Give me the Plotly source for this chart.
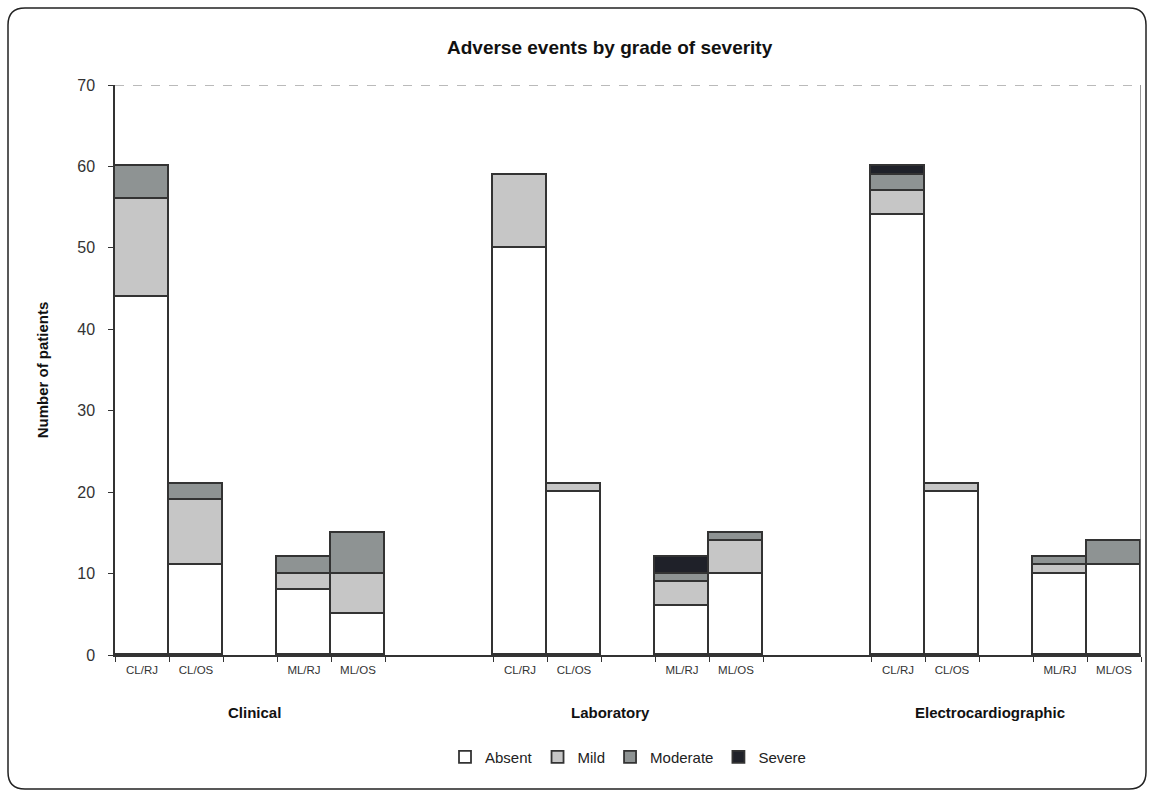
import plotly.graph_objects as go

groups = ["Clinical", "Laboratory", "Electrocardiographic"]
subgroups = ["CL/RJ", "CL/OS", "ML/RJ", "ML/OS"]
grades = ["Absent", "Mild", "Moderate", "Severe"]

absent = [44, 11, 8, 5, 50, 20, 6, 10, 54, 20, 10, 11]
mild = [12, 8, 2, 5, 9, 1, 3, 4, 3, 1, 1, 0]
moderate = [4, 2, 2, 5, 0, 0, 1, 1, 2, 0, 1, 3]
severe = [0, 0, 0, 0, 0, 0, 2, 0, 1, 0, 0, 0]

colors = ["#ffffff", "#c6c6c6", "#8e9393", "#1f2129"]
FONT = "Liberation Sans, Arial, sans-serif"

# slot layout: each group has 4 bars in slots (0,1,3,4), groups 7 slots apart
slot_offsets = [0, 1, 3, 4]
xs = []
labels = []
for gi in range(len(groups)):
    for si, sg in enumerate(subgroups):
        xs.append(gi * 7 + slot_offsets[si] + 0.5)
        labels.append(sg)

fig = go.Figure()
for name, vals, col in zip(grades, [absent, mild, moderate, severe], colors):
    fig.add_trace(go.Bar(
        x=xs, y=[v if v else None for v in vals], name=name, width=1,
        marker=dict(color=col, line=dict(color="#333333", width=1.8)),
    ))

n_slots = 19
tick_bounds = []
for gi in range(len(groups)):
    tick_bounds += [gi * 7 + k for k in range(6)]

fig.update_layout(
    width=1150, height=795,
    margin=dict(l=115, r=9, t=85, b=140),
    barmode="stack", bargap=0,
    paper_bgcolor="white", plot_bgcolor="white",
    font=dict(family=FONT, color="#222"),
    showlegend=True,
    legend=dict(orientation="h", x=0.5, xanchor="center", y=-0.179, yanchor="middle",
                font=dict(size=15, color="#222"), traceorder="normal",
                itemwidth=30),
    xaxis=dict(range=[0, n_slots], tickvals=tick_bounds, showticklabels=False,
               ticks="outside", ticklen=5, tickcolor="#333", showgrid=False,
               showline=True, linecolor="#333", linewidth=1.5, zeroline=False, fixedrange=True),
    xaxis2=dict(range=[0, n_slots], overlaying="x", anchor="y", side="bottom",
                tickvals=xs, ticktext=labels, ticks="", showgrid=False, showline=False,
                zeroline=False, tickfont=dict(size=11.5, color="#333"), ticklabelstandoff=6),
    yaxis=dict(range=[0, 70], dtick=10, ticks="outside", ticklen=5, tickcolor="#333",
               showgrid=False, showline=True, linecolor="#333", linewidth=1.5, zeroline=False,
               tickfont=dict(size=16, color="#333"), ticklabelstandoff=10,
               title=dict(text="<b>Number of patients</b>", font=dict(size=15, color="#111"),
                          standoff=25)),
)
# invisible trace to activate xaxis2
fig.add_trace(go.Scatter(x=[0], y=[0], xaxis="x2", mode="markers",
                         marker=dict(opacity=0), showlegend=False, hoverinfo="skip"))

# frame lines: top dashed, right solid
fig.add_shape(type="line", xref="x", yref="y", x0=0, x1=n_slots, y0=70, y1=70,
              line=dict(color="#777", width=1.2, dash="dash"))
fig.add_shape(type="line", xref="x", yref="y", x0=n_slots, x1=n_slots, y0=0, y1=70,
              line=dict(color="#777", width=1.5))

# title
fig.add_annotation(text="<b>Adverse events by grade of severity</b>", xref="paper", yref="paper",
                   x=(610 - 115) / 1026, y=(655 - 47) / 570, showarrow=False,
                   font=dict(size=19, color="#111"), xanchor="center", yanchor="middle")

# group labels
group_px = [254, 610, 990]
for g, px in zip(groups, group_px):
    fig.add_annotation(text=f"<b>{g}</b>", xref="paper", yref="paper",
                       x=(px - 115) / 1026, y=(655 - 712) / 570, showarrow=False,
                       font=dict(size=15, color="#111"), xanchor="center", yanchor="middle")

# rounded outer border
x0, x1 = (8 - 115) / 1026, (1146 - 115) / 1026
y0, y1 = (655 - 789) / 570, (655 - 8) / 570
rx, ry = 17 / 1026, 17 / 570
path = (f"M {x0+rx},{y1} L {x1-rx},{y1} Q {x1},{y1} {x1},{y1-ry} L {x1},{y0+ry} "
        f"Q {x1},{y0} {x1-rx},{y0} L {x0+rx},{y0} Q {x0},{y0} {x0},{y0+ry} "
        f"L {x0},{y1-ry} Q {x0},{y1} {x0+rx},{y1} Z")
fig.add_shape(type="path", xref="paper", yref="paper", path=path,
              line=dict(color="#222", width=1.5), layer="above")

fig.write_html("out.html", config={"displayModeBar": False},
               post_script="document.body.style.margin='0px';document.body.style.overflow='hidden';")
